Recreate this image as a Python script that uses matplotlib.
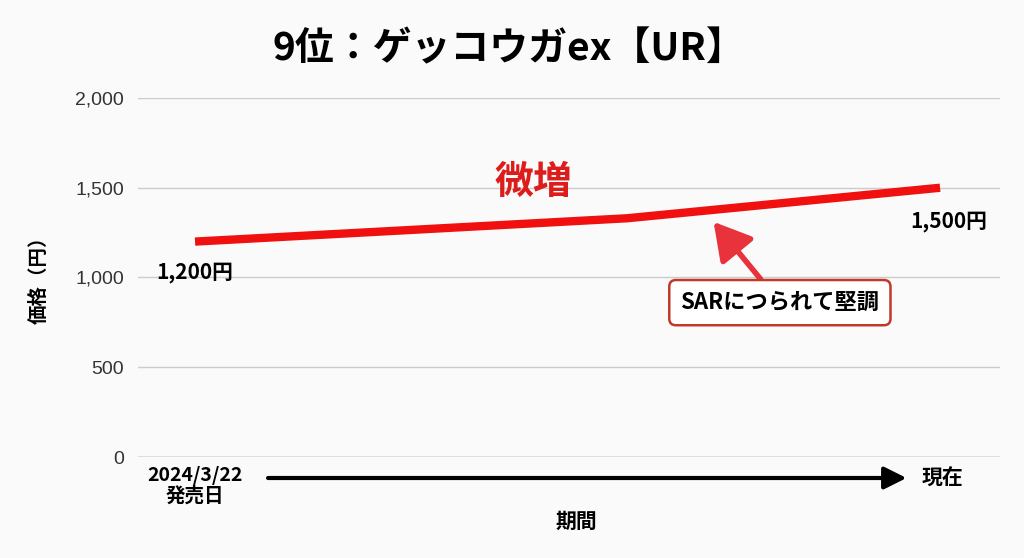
import matplotlib
matplotlib.use("Agg")
import matplotlib.pyplot as plt
import matplotlib.transforms as mtransforms
from matplotlib.patches import FancyArrowPatch

plt.rcParams['font.family'] = ['Noto Sans CJK JP', 'DejaVu Sans']

# data
periods = [0.0, 0.58, 1.0]
prices = [1200, 1330, 1500]
yticks = [0, 500, 1000, 1500, 2000]
ytick_labels = ["0", "500", "1,000", "1,500", "2,000"]
start_label = "1,200円"
end_label = "1,500円"
title = "9位：ゲッコウガex【UR】"

bg = "#fafafa"
fig = plt.figure(figsize=(10.24, 5.58), dpi=100, facecolor=bg)
ax = fig.add_axes([0.1348, 0.181, 0.8418, 0.6434], facecolor=bg)

ax.plot(periods, prices, color="#f01010", lw=6, solid_capstyle="butt", zorder=3)

ax.set_xlim(-0.0765, 1.0805)
ax.set_ylim(0, 2000)
ax.set_yticks(yticks)
ax.set_yticklabels(ytick_labels, family=["Liberation Sans", "DejaVu Sans"], fontsize=14, color="#333333")
ax.set_xticks([])
ax.tick_params(axis="y", length=0, pad=10)
ax.grid(axis="y", color="#cccccc", lw=1)
for s in ax.spines.values():
    s.set_visible(False)
ax.axhline(0, color="#999999", lw=1)

# title and axis labels
fig.text(0.497, 0.913, title, ha="center", va="center", fontsize=28, fontweight="bold")
fig.text(0.038, 0.507, "価格（円）", rotation=90, ha="center", va="center", fontsize=14, fontweight="bold")
fig.text(0.563, 0.066, "期間", ha="center", va="center", fontsize=15, fontweight="bold")

# value labels
ax.text(periods[0], prices[0] - 170, start_label, ha="center", va="center", fontsize=15, fontweight="bold")
ax.text(periods[-1] + 0.011, prices[-1] - 190, end_label, ha="center", va="center", fontsize=15, fontweight="bold")
ax.text(0.454, 1530, "微増", ha="center", va="center", fontsize=28, fontweight="bold", color="#dd1c1c")

# callout
ax.annotate("SARにつられて堅調", xy=(0.696, 1310), xytext=(0.785, 860),
            ha="center", va="center", fontsize=16, fontweight="bold",
            bbox=dict(boxstyle="round,pad=0.5,rounding_size=0.3", fc="white", ec="#c0392b", lw=1.8),
            arrowprops=dict(arrowstyle="-|>,head_length=1.4,head_width=0.8", color="#e8323c", lw=4,
                            shrinkA=0, shrinkB=0))

# time axis below
trans = mtransforms.blended_transform_factory(ax.transData, ax.transAxes)
ax.add_patch(FancyArrowPatch((0.098, -0.0585), (0.955, -0.0585), transform=trans,
                             arrowstyle="-|>,head_length=0.9,head_width=0.45", color="black",
                             lw=3, clip_on=False, shrinkA=0, shrinkB=0, mutation_scale=15))
ax.text(periods[0], -0.08, "2024/3/22\n発売日", transform=trans, ha="center", va="center",
        fontsize=14, fontweight="bold", linespacing=1.05)
ax.text(1.003, -0.058, "現在", transform=trans, ha="center", va="center", fontsize=15, fontweight="bold")

fig.savefig("out.png", dpi=100, facecolor=bg)
